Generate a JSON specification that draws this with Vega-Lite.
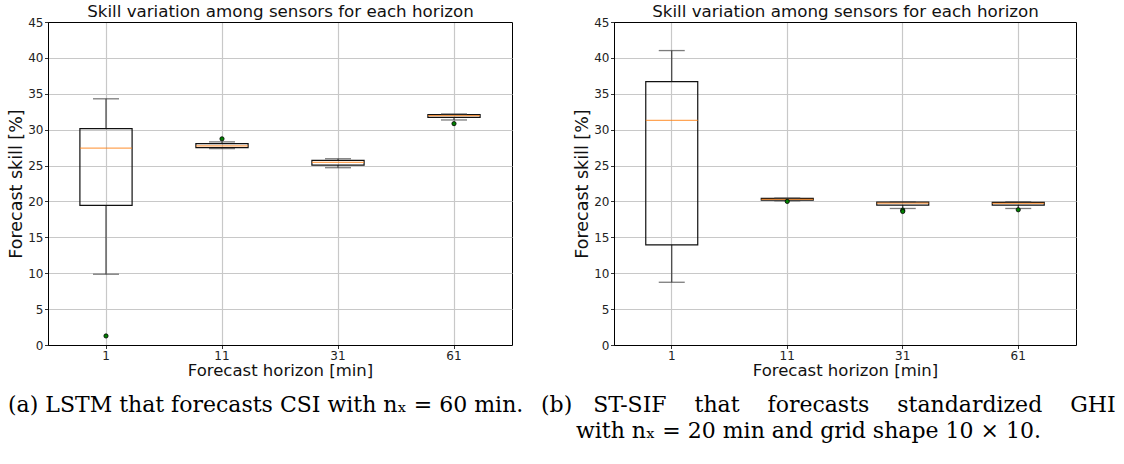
{
  "$schema": "https://vega.github.io/schema/vega-lite/v6.json",
  "padding": {"left": 7, "top": 2, "right": 0, "bottom": 0},
  "background": "white",
  "bounds": "flush",
  "spacing": 102,
  "datasets": {
    "lstm_boxes": [
      {"horizon": "1", "whislo": 9.86, "q1": 19.44, "med": 27.44, "q3": 30.14, "whishi": 34.3},
      {"horizon": "11", "whislo": 27.36, "q1": 27.5, "med": 27.75, "q3": 28.05, "whishi": 28.3},
      {"horizon": "31", "whislo": 24.7, "q1": 25.07, "med": 25.44, "q3": 25.72, "whishi": 25.95},
      {"horizon": "61", "whislo": 31.35, "q1": 31.72, "med": 31.95, "q3": 32.09, "whishi": 32.19}
    ],
    "lstm_fliers": [
      {"horizon": "1", "value": 1.26},
      {"horizon": "11", "value": 28.72},
      {"horizon": "61", "value": 30.84}
    ],
    "stsif_boxes": [
      {"horizon": "1", "whislo": 8.74, "q1": 13.95, "med": 31.3, "q3": 36.7, "whishi": 41.02},
      {"horizon": "11", "whislo": 20.09, "q1": 20.19, "med": 20.28, "q3": 20.42, "whishi": 20.47},
      {"horizon": "31", "whislo": 19.02, "q1": 19.49, "med": 19.77, "q3": 19.9, "whishi": 19.95},
      {"horizon": "61", "whislo": 19.02, "q1": 19.49, "med": 19.72, "q3": 19.86, "whishi": 19.95}
    ],
    "stsif_fliers": [
      {"horizon": "11", "value": 20.0},
      {"horizon": "31", "value": 18.79},
      {"horizon": "31", "value": 18.6},
      {"horizon": "61", "value": 18.84}
    ]
  },
  "config": {
    "font": "DejaVu Sans",
    "view": {"stroke": "#000000", "strokeWidth": 1},
    "axis": {
      "labelFont": "DejaVu Sans",
      "labelFontSize": 12,
      "labelColor": "#222222",
      "titleFont": "DejaVu Sans",
      "titleFontSize": 16.5,
      "titleFontWeight": "normal",
      "titleColor": "#111111",
      "tickColor": "#000000",
      "tickSize": 3.5,
      "tickWidth": 0.8,
      "domain": true,
      "domainColor": "#000000",
      "domainWidth": 1,
      "gridColor": "#c8c8c8",
      "gridWidth": 1.2
    },
    "title": {
      "font": "DejaVu Serif",
      "fontSize": 22,
      "fontWeight": "normal",
      "color": "#000000",
      "orient": "bottom",
      "anchor": "start",
      "frame": "group",
      "offset": 16,
      "lineHeight": 26
    }
  },
  "hconcat": [
    {
      "width": 464,
      "height": 323,
      "title": {"text": "(a) LSTM that forecasts CSI with nₓ = 60 min.", "dx": -40},
      "data": {"name": "lstm_boxes"},
      "resolve": {"axis": {"x": "independent"}},
      "layer": [
        {
          "mark": {"type": "rule", "color": "#333333", "strokeWidth": 1.1},
          "encoding": {
            "x": {"field": "horizon", "type": "ordinal", "sort": ["1", "11", "31", "61"],
                  "scale": {"paddingInner": 0, "paddingOuter": 0},
                  "axis": {"orient": "top", "title": "Skill variation among sensors for each horizon",
                           "titleFontSize": 16.7, "titlePadding": 2, "labels": false, "ticks": false, "grid": false}},
            "y": {"field": "whislo", "type": "quantitative", "scale": {"domain": [0, 45]},
                  "axis": {"title": "Forecast skill [%]", "titleFontSize": 17.5, "labelFontSize": 12, "values": [0, 5, 10, 15, 20, 25, 30, 35, 40, 45], "grid": true, "labelPadding": 1.5, "titlePadding": 2}},
            "y2": {"field": "q1"}
          }
        },
        {
          "mark": {"type": "rule", "color": "#333333", "strokeWidth": 1.1},
          "encoding": {
            "x": {"field": "horizon", "type": "ordinal", "sort": ["1", "11", "31", "61"], "axis": null},
            "y": {"field": "q3", "type": "quantitative", "scale": {"domain": [0, 45]},
                  "axis": {"title": "Forecast skill [%]", "titleFontSize": 17.5, "labelFontSize": 12, "values": [0, 5, 10, 15, 20, 25, 30, 35, 40, 45], "grid": true, "labelPadding": 1.5, "titlePadding": 2}},
            "y2": {"field": "whishi"}
          }
        },
        {
          "mark": {"type": "bar", "fill": "transparent", "stroke": "#111111", "strokeWidth": 1.2, "width": {"band": 0.45}},
          "encoding": {
            "x": {"field": "horizon", "type": "ordinal", "sort": ["1", "11", "31", "61"],
                  "axis": {"title": "Forecast horizon [min]", "titleFontSize": 16.5, "labelFontSize": 12, "labelAngle": 0, "grid": true, "bandPosition": 0.5, "labelPadding": 2, "titlePadding": 1}},
            "y": {"field": "q1", "type": "quantitative", "scale": {"domain": [0, 45]},
                  "axis": {"title": "Forecast skill [%]", "titleFontSize": 17.5, "labelFontSize": 12, "values": [0, 5, 10, 15, 20, 25, 30, 35, 40, 45], "grid": true, "labelPadding": 1.5, "titlePadding": 2}},
            "y2": {"field": "q3"}
          }
        },
        {
          "mark": {"type": "tick", "color": "#ff7f0e", "size": 52, "thickness": 1.3},
          "encoding": {
            "x": {"field": "horizon", "type": "ordinal", "sort": ["1", "11", "31", "61"], "axis": null},
            "y": {"field": "med", "type": "quantitative", "scale": {"domain": [0, 45]},
                  "axis": {"title": "Forecast skill [%]", "titleFontSize": 17.5, "labelFontSize": 12, "values": [0, 5, 10, 15, 20, 25, 30, 35, 40, 45], "grid": true, "labelPadding": 1.5, "titlePadding": 2}}
          }
        },
        {
          "mark": {"type": "tick", "color": "#444444", "size": 26, "thickness": 1.3},
          "encoding": {
            "x": {"field": "horizon", "type": "ordinal", "sort": ["1", "11", "31", "61"], "axis": null},
            "y": {"field": "whislo", "type": "quantitative", "scale": {"domain": [0, 45]},
                  "axis": {"title": "Forecast skill [%]", "titleFontSize": 17.5, "labelFontSize": 12, "values": [0, 5, 10, 15, 20, 25, 30, 35, 40, 45], "grid": true, "labelPadding": 1.5, "titlePadding": 2}}
          }
        },
        {
          "mark": {"type": "tick", "color": "#444444", "size": 26, "thickness": 1.3},
          "encoding": {
            "x": {"field": "horizon", "type": "ordinal", "sort": ["1", "11", "31", "61"], "axis": null},
            "y": {"field": "whishi", "type": "quantitative", "scale": {"domain": [0, 45]},
                  "axis": {"title": "Forecast skill [%]", "titleFontSize": 17.5, "labelFontSize": 12, "values": [0, 5, 10, 15, 20, 25, 30, 35, 40, 45], "grid": true, "labelPadding": 1.5, "titlePadding": 2}}
          }
        },
        {
          "data": {"name": "lstm_fliers"},
          "mark": {"type": "point", "filled": true, "fill": "#008000", "stroke": "#000000", "strokeWidth": 0.8, "size": 18, "opacity": 1},
          "encoding": {
            "x": {"field": "horizon", "type": "ordinal", "sort": ["1", "11", "31", "61"], "axis": null},
            "y": {"field": "value", "type": "quantitative", "scale": {"domain": [0, 45]},
                  "axis": {"title": "Forecast skill [%]", "titleFontSize": 17.5, "labelFontSize": 12, "values": [0, 5, 10, 15, 20, 25, 30, 35, 40, 45], "grid": true, "labelPadding": 1.5, "titlePadding": 2}}
          }
        }
      ]
    },
    {
      "width": 462,
      "height": 323,
      "title": {"text": ["(b) \u00a0\u00a0ST-SIF\u00a0\u00a0\u00a0 that\u00a0\u00a0\u00a0 forecasts\u00a0\u00a0\u00a0 standardized\u00a0\u00a0\u00a0 GHI", "\u200b\u00a0\u00a0\u00a0\u00a0\u00a0with nₓ = 20 min and grid shape 10 × 10."], "dx": -73},
      "data": {"name": "stsif_boxes"},
      "resolve": {"axis": {"x": "independent"}},
      "layer": [
        {
          "mark": {"type": "rule", "color": "#333333", "strokeWidth": 1.1},
          "encoding": {
            "x": {"field": "horizon", "type": "ordinal", "sort": ["1", "11", "31", "61"],
                  "scale": {"paddingInner": 0, "paddingOuter": 0},
                  "axis": {"orient": "top", "title": "Skill variation among sensors for each horizon",
                           "titleFontSize": 16.7, "titlePadding": 2, "labels": false, "ticks": false, "grid": false}},
            "y": {"field": "whislo", "type": "quantitative", "scale": {"domain": [0, 45]},
                  "axis": {"title": "Forecast skill [%]", "titleFontSize": 17.5, "labelFontSize": 12, "values": [0, 5, 10, 15, 20, 25, 30, 35, 40, 45], "grid": true, "labelPadding": 1.5, "titlePadding": 2}},
            "y2": {"field": "q1"}
          }
        },
        {
          "mark": {"type": "rule", "color": "#333333", "strokeWidth": 1.1},
          "encoding": {
            "x": {"field": "horizon", "type": "ordinal", "sort": ["1", "11", "31", "61"], "axis": null},
            "y": {"field": "q3", "type": "quantitative", "scale": {"domain": [0, 45]},
                  "axis": {"title": "Forecast skill [%]", "titleFontSize": 17.5, "labelFontSize": 12, "values": [0, 5, 10, 15, 20, 25, 30, 35, 40, 45], "grid": true, "labelPadding": 1.5, "titlePadding": 2}},
            "y2": {"field": "whishi"}
          }
        },
        {
          "mark": {"type": "bar", "fill": "transparent", "stroke": "#111111", "strokeWidth": 1.2, "width": {"band": 0.45}},
          "encoding": {
            "x": {"field": "horizon", "type": "ordinal", "sort": ["1", "11", "31", "61"],
                  "axis": {"title": "Forecast horizon [min]", "titleFontSize": 16.5, "labelFontSize": 12, "labelAngle": 0, "grid": true, "bandPosition": 0.5, "labelPadding": 2, "titlePadding": 1}},
            "y": {"field": "q1", "type": "quantitative", "scale": {"domain": [0, 45]},
                  "axis": {"title": "Forecast skill [%]", "titleFontSize": 17.5, "labelFontSize": 12, "values": [0, 5, 10, 15, 20, 25, 30, 35, 40, 45], "grid": true, "labelPadding": 1.5, "titlePadding": 2}},
            "y2": {"field": "q3"}
          }
        },
        {
          "mark": {"type": "tick", "color": "#ff7f0e", "size": 52, "thickness": 1.3},
          "encoding": {
            "x": {"field": "horizon", "type": "ordinal", "sort": ["1", "11", "31", "61"], "axis": null},
            "y": {"field": "med", "type": "quantitative", "scale": {"domain": [0, 45]},
                  "axis": {"title": "Forecast skill [%]", "titleFontSize": 17.5, "labelFontSize": 12, "values": [0, 5, 10, 15, 20, 25, 30, 35, 40, 45], "grid": true, "labelPadding": 1.5, "titlePadding": 2}}
          }
        },
        {
          "mark": {"type": "tick", "color": "#444444", "size": 26, "thickness": 1.3},
          "encoding": {
            "x": {"field": "horizon", "type": "ordinal", "sort": ["1", "11", "31", "61"], "axis": null},
            "y": {"field": "whislo", "type": "quantitative", "scale": {"domain": [0, 45]},
                  "axis": {"title": "Forecast skill [%]", "titleFontSize": 17.5, "labelFontSize": 12, "values": [0, 5, 10, 15, 20, 25, 30, 35, 40, 45], "grid": true, "labelPadding": 1.5, "titlePadding": 2}}
          }
        },
        {
          "mark": {"type": "tick", "color": "#444444", "size": 26, "thickness": 1.3},
          "encoding": {
            "x": {"field": "horizon", "type": "ordinal", "sort": ["1", "11", "31", "61"], "axis": null},
            "y": {"field": "whishi", "type": "quantitative", "scale": {"domain": [0, 45]},
                  "axis": {"title": "Forecast skill [%]", "titleFontSize": 17.5, "labelFontSize": 12, "values": [0, 5, 10, 15, 20, 25, 30, 35, 40, 45], "grid": true, "labelPadding": 1.5, "titlePadding": 2}}
          }
        },
        {
          "data": {"name": "stsif_fliers"},
          "mark": {"type": "point", "filled": true, "fill": "#008000", "stroke": "#000000", "strokeWidth": 0.8, "size": 18, "opacity": 1},
          "encoding": {
            "x": {"field": "horizon", "type": "ordinal", "sort": ["1", "11", "31", "61"], "axis": null},
            "y": {"field": "value", "type": "quantitative", "scale": {"domain": [0, 45]},
                  "axis": {"title": "Forecast skill [%]", "titleFontSize": 17.5, "labelFontSize": 12, "values": [0, 5, 10, 15, 20, 25, 30, 35, 40, 45], "grid": true, "labelPadding": 1.5, "titlePadding": 2}}
          }
        }
      ]
    }
  ]
}
